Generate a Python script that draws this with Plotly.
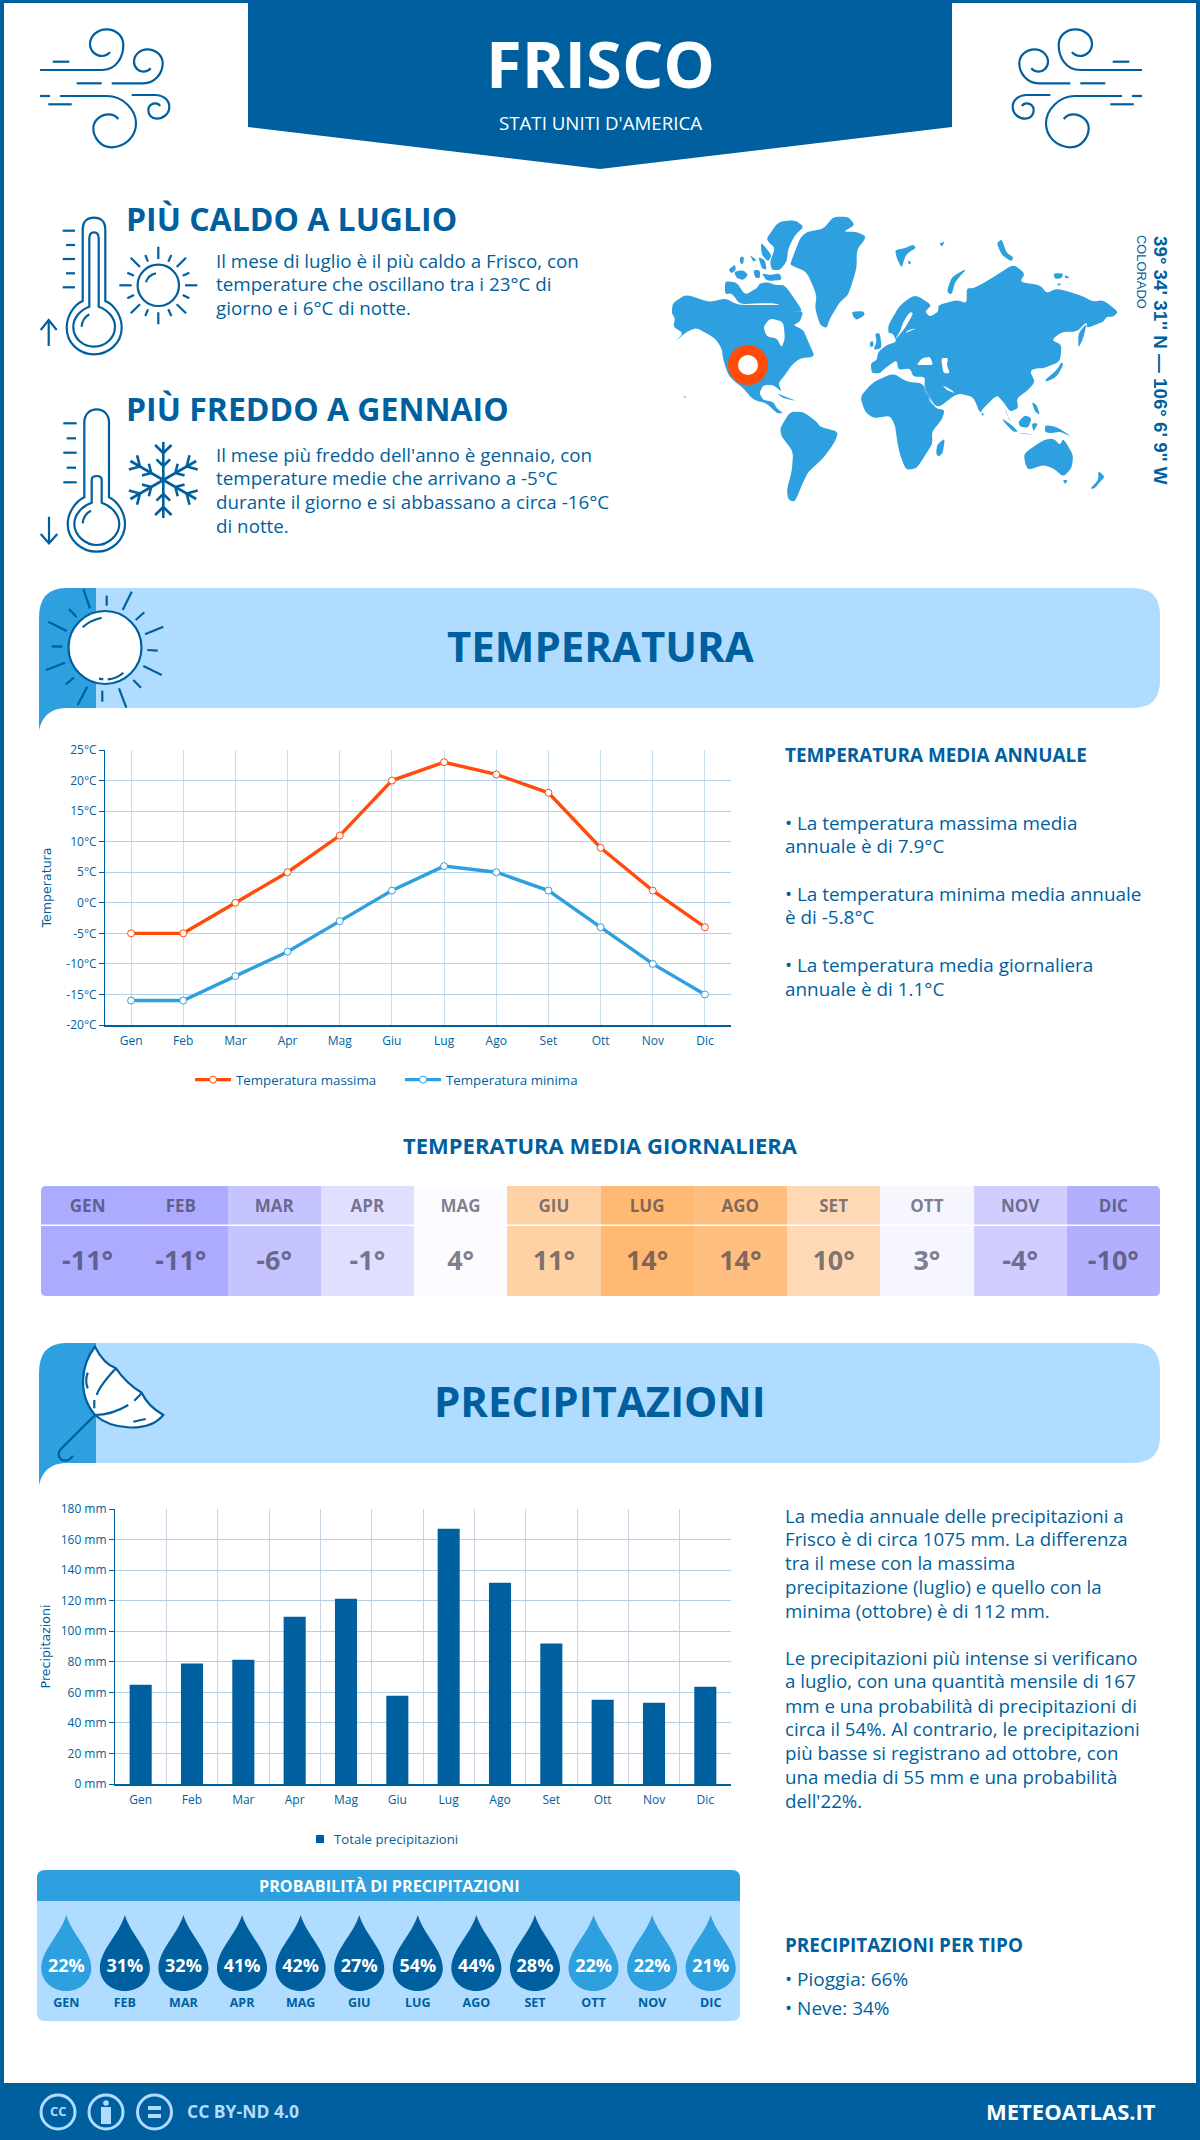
import math
import re

import plotly.graph_objects as go

W, H = 1200, 2140
DARK = "#005F9E"
MID = "#2E9FDF"
LIGHT = "#B0DCFF"
ORANGE = "#FF4C0A"
GRID = "#B3CFE3"
FONT = "Open Sans"

months = ["Gen", "Feb", "Mar", "Apr", "Mag", "Giu", "Lug", "Ago", "Set", "Ott", "Nov", "Dic"]
months_upper = ["GEN", "FEB", "MAR", "APR", "MAG", "GIU", "LUG", "AGO", "SET", "OTT", "NOV", "DIC"]
temp_max = [-5, -5, 0, 5, 11, 20, 23, 21, 18, 9, 2, -4]
temp_min = [-16, -16, -12, -8, -3, 2, 6, 5, 2, -4, -10, -15]
temp_ticks = [-20, -15, -10, -5, 0, 5, 10, 15, 20, 25]
daily_temp = [-10.9, -10.8, -6, -1, 4, 11, 14.4, 13.8, 10, 3, -4, -10]
precip = [65, 78.8, 81.4, 109.5, 121.3, 57.8, 167, 131.8, 91.9, 55.2, 53.2, 63.7]
precip_ticks = [0, 20, 40, 60, 80, 100, 120, 140, 160, 180]
rain_prob = [22, 31, 32, 41, 42, 27, 54, 44, 28, 22, 22, 21]

# temperature -> cell colour
heat_stops = [(-11, "#AAAAFF"), (-10, "#B2AFFF"), (-6, "#C6C4FF"), (-4, "#D0CEFF"), (-1, "#E0DFFF"),
              (3, "#F6F6FF"), (4, "#FCFBFF"), (10, "#FFD9B5"), (11, "#FFD2A6"), (13.8, "#FFBF80"), (14.4, "#FFB972")]

hot_text = ["Il mese di luglio è il più caldo a Frisco, con",
            "temperature che oscillano tra i 23°C di",
            "giorno e i 6°C di notte."]
cold_text = ["Il mese più freddo dell'anno è gennaio, con",
             "temperature medie che arrivano a -5°C",
             "durante il giorno e si abbassano a circa -16°C",
             "di notte."]
annual_text = [(825, "• La temperatura massima media"), (848, "annuale è di 7.9°C"),
               (896, "• La temperatura minima media annuale"), (919, "è di -5.8°C"),
               (967, "• La temperatura media giornaliera"), (991, "annuale è di 1.1°C")]
precip_text = [(1517, "La media annuale delle precipitazioni a"),
               (1540, "Frisco è di circa 1075 mm. La differenza"),
               (1564, "tra il mese con la massima"),
               (1588, "precipitazione (luglio) e quello con la"),
               (1612, "minima (ottobre) è di 112 mm."),
               (1659, "Le precipitazioni più intense si verificano"),
               (1682, "a luglio, con una quantità mensile di 167"),
               (1707, "mm e una probabilità di precipitazioni di"),
               (1730, "circa il 54%. Al contrario, le precipitazioni"),
               (1754, "più basse si registrano ad ottobre, con"),
               (1778, "una media di 55 mm e una probabilità"),
               (1802, "dell'22%.")]

land_west = [
    [(38,295),(78,268),(150,292),(195,280),(235,300),(300,300),(345,300),(375,300),(405,320),(430,320),(420,350),(400,360),(430,375),(445,410),(465,455),(420,460),(395,480),(375,510),(355,535),(365,560),(340,540),(310,540),(298,565),(310,585),(340,590),(350,610),(370,625),(350,625),(320,595),(280,585),(250,550),(225,530),(205,510),(190,465),(185,430),(165,400),(110,368),(80,380),(45,410),(70,385),(40,365),(45,340),(35,325)],
    [(205,195),(225,178),(228,195),(215,205)],
    [(222,200),(250,195),(265,210),(250,225),(230,220)],
    [(195,228),(230,232),(255,270),(290,250),(300,235),(325,232),(345,240),(375,240),(430,320),(400,320),(350,295),(300,295),(240,298),(215,265),(195,268)],
    [(320,100),(355,50),(405,45),(432,65),(405,90),(385,130),(380,170),(360,195),(335,195),(330,170),(345,130),(325,110)],
    [(302,110),(335,150),(325,170),(305,150)],
    [(280,195),(300,195),(300,220),(285,218)],
    [(305,205),(330,210),(360,205),(365,225),(320,228)],
    [(270,150),(290,165),(280,170)],
    [(240,155),(252,155),(250,178),(240,175)],
    [(295,155),(315,165),(320,195),(305,190)],
    [(395,165),(420,100),(440,80),(490,72),(520,35),(565,35),(585,60),(550,80),(590,80),(620,95),(590,135),(590,190),(565,270),(540,290),(510,340),(500,370),(480,360),(465,310),(470,270),(440,200),(390,180)],
    [(575,320),(610,318),(615,330),(590,345),(580,335)],
    [(360,670),(390,620),(430,620),(470,650),(480,665),(535,680),(525,710),(490,760),(445,800),(430,830),(405,890),(385,885),(380,855),(395,800),(400,740),(365,695)],
    [(350,565),(385,578),(410,588),(370,580)],
    [(68,570),(82,580),(72,576)],
    [(645,385),(660,385),(665,430),(640,435),(650,410)],
    [(630,410),(640,408),(640,425),(630,425)],
]
land_east = [
    [(-60,575),(-20,530),(40,505),(80,530),(130,535),(165,610),(195,615),(185,645),(155,680),(158,715),(130,760),(110,790),(78,795),(60,750),(52,710),(45,660),(30,632),(-20,640),(-45,620)],
    [(25,360),(60,300),(105,268),(155,300),(135,320),(150,335),(175,320),(175,300),(230,285),(260,295),(260,250),(280,250),(310,235),(350,210),(400,178),(435,205),(420,232),(480,240),(500,265),(530,250),(600,270),(640,290),(670,285),(715,320),(700,335),(680,335),(670,350),(620,370),(620,350),(590,380),(545,380),(515,405),(545,420),(540,470),(490,490),(470,490),(450,500),(465,530),(445,555),(410,580),(415,610),(390,620),(370,590),(350,570),(310,610),(300,625),(280,575),(232,565),(170,612),(133,545),(135,515),(100,515),(90,490),(55,495),(50,465),(15,490),(0,505),(-25,505),(-28,475),(-10,465),(-5,440),(20,420),(50,410),(38,385),(25,385)],
    [(595,385),(620,355),(610,400),(595,430)],
    [(495,525),(530,495),(545,470),(550,480),(530,515),(500,530)],
    [(375,605),(385,640),(395,650),(380,630)],
    [(365,640),(395,660),(415,680),(400,680),(375,655)],
    [(405,682),(470,690),(440,688)],
    [(415,650),(435,630),(455,640),(445,668),(420,665)],
    [(455,590),(470,600),(480,630),(465,620)],
    [(455,655),(475,655),(460,680)],
    [(495,660),(530,665),(575,695),(540,680),(510,685),(495,680)],
    [(432,745),(490,705),(520,700),(540,720),(550,700),(580,750),(575,790),(550,815),(520,790),(490,780),(445,795),(435,775)],
    [(548,825),(563,825),(556,838)],
    [(655,797),(675,815),(660,830),(645,850),(630,852),(655,825)],
    [(172,718),(195,700),(188,745),(175,755),(168,745)],
    [(45,135),(75,130),(100,118),(108,130),(88,140),(75,155),(65,190),(50,160)],
    [(85,165),(95,175),(85,178)],
    [(178,115),(195,110),(185,125)],
    [(350,115),(365,102),(380,145),(400,155),(395,170),(365,150)],
    [(200,260),(215,215),(262,190),(225,230),(215,270)],
    [(520,205),(550,205),(545,220),(525,222)],
    [(555,210),(570,218),(555,220)],
    [(530,235),(545,237),(535,242)],
    [(305,620),(313,630),(305,632)],
]
seas_west = [[(310,365),(330,340),(370,350),(375,400),(365,428),(350,400),(320,395)]]
seas_east = [
    [(45,405),(75,370),(100,325),(90,320),(70,350),(60,380),(50,395)],
    [(75,385),(110,370),(85,375)],
    [(110,480),(125,460),(150,455),(160,480),(130,480)],
    [(183,460),(205,458),(200,480),(210,505),(190,505)],
    [(187,540),(215,555),(225,565),(200,555)],
    [(450,495),(480,490),(475,515),(465,500)],
    [(130,540),(150,590),(165,605),(140,570)],
]

WIND = ["M30,150 L215,150 C260,150 280,110 280,75 C280,45 255,28 230,28 C200,28 180,50 180,72 C180,95 200,108 215,108 C228,108 238,100 240,96",
        "M68,125 L118,125", "M140,190 L215,190",
        "M245,190 L340,190 C375,190 398,160 398,130 C398,105 375,88 352,88 C330,88 312,105 312,125 C312,145 328,155 340,155 C350,155 358,150 362,145",
        "M30,228 L60,228",
        "M90,228 L230,228 C280,228 318,270 318,310 C318,350 285,382 245,382 C210,382 190,350 190,325 C190,300 215,283 235,283 C250,283 260,290 265,297",
        "M55,253 L125,253",
        "M305,225 L375,225 C400,225 418,240 418,260 C418,282 400,296 380,296 C365,296 355,285 355,270 C355,258 365,250 375,250 C382,250 388,253 390,258"]
THERMO_HOT = ["M158,288 L158,72 C158,50 172,38 192,38 C212,38 226,50 226,72 L226,288 C255,300 275,335 275,368 C275,415 235,448 192,448 C148,448 110,415 110,368 C110,335 130,300 158,288 Z",
              "M178,305 L178,100 C178,88 184,82 192,82 C200,82 206,88 206,100 L206,305 C235,315 255,340 255,365 C255,400 225,425 192,425 C158,425 130,400 130,365 C130,340 150,315 178,305 Z",
              "M155,365 C155,350 165,335 178,328",
              "M98,77 L135,77", "M108,120 L135,120", "M98,162 L135,162", "M108,205 L135,205", "M98,247 L135,247",
              "M56,423 L56,345", "M32,375 L56,345 L80,375",
              "M348,232 C352,218 365,208 378,205",
              "M385,125 L385,162", "M385,322 L385,358", "M268,241 L305,241", "M465,241 L502,241",
              "M302,158 L330,186", "M468,158 L440,186", "M302,325 L330,298", "M468,325 L440,298",
              "M346,150 L354,170", "M424,150 L415,170", "M292,203 L312,212", "M478,203 L458,212",
              "M292,280 L312,270", "M478,280 L458,270", "M346,333 L354,313", "M424,333 L415,313"]
THERMO_COLD = ["M163,292 L163,68 C163,42 180,28 200,28 C220,28 237,42 237,68 L237,292 C265,305 285,340 285,372 C285,420 245,455 200,455 C155,455 113,420 113,372 C113,340 135,305 163,292 Z",
               "M185,308 L185,240 C185,232 192,228 200,228 C208,228 215,232 215,240 L215,308 C245,318 268,345 268,372 C268,405 235,435 200,435 C165,435 133,405 133,372 C133,345 155,318 185,308 Z",
               "M158,370 C160,352 170,338 183,332",
               "M100,70 L140,70", "M110,115 L138,115", "M100,158 L140,158", "M110,203 L138,203", "M100,247 L140,247",
               "M57,350 L57,430", "M32,402 L57,430 L82,402"]
SUN_RAYS = ["M145,12 L165,70", "M215,32 L215,62", "M290,20 L263,75", "M328,82 L302,105", "M385,125 L330,148",
            "M337,195 L368,197", "M325,243 L380,270", "M295,285 L318,308", "M252,310 L274,368", "M202,317 L202,350",
            "M157,305 L128,360", "M117,278 L92,298", "M90,233 L33,255", "M82,185 L50,184", "M95,138 L40,110",
            "M125,97 L102,72", "M143,127 C160,110 180,103 200,98", "M218,283 C235,282 252,275 265,263", "M192,281 L205,283"]
UMBRELLA = "M180,20 C140,70 125,160 180,225 C230,270 340,280 385,225 C350,205 330,180 320,158 C290,140 260,110 243,85 C215,75 195,50 180,20 Z"
UMBRELLA_LINES = ["M243,85 C210,120 190,150 185,165", "M178,180 L178,205", "M180,225 C220,225 255,210 280,195",
                  "M298,182 L320,160", "M295,245 L332,237", "M158,98 C152,115 152,130 158,145",
                  "M180,225 L75,330 C65,345 75,362 90,362 C100,362 110,355 113,347"]

shapes = []
annotations = []


def crop_path(d, ox, oy, mirror=None):
    # 3x crop coordinates -> page pixels
    def conv(m):
        x = ox + float(m.group(1)) / 3
        y = oy + float(m.group(2)) / 3
        if mirror is not None:
            x = mirror - x
        return f"{x:.1f},{y:.1f}"
    return re.sub(r"(-?[\d.]+),(-?[\d.]+)", conv, d)


def poly(pts, ox, oy):
    # closed outline with the corners rounded off
    pts = [(ox + x / 3, oy + y / 3) for x, y in pts]
    out = []
    for i, (x, y) in enumerate(pts):
        px, py = pts[i - 1]
        nx, ny = pts[(i + 1) % len(pts)]
        a = (x + 0.3 * (px - x), y + 0.3 * (py - y))
        b = (x + 0.3 * (nx - x), y + 0.3 * (ny - y))
        out.append(f"{'M' if i == 0 else 'L'}{a[0]:.1f},{a[1]:.1f} Q{x:.1f},{y:.1f} {b[0]:.1f},{b[1]:.1f}")
    return " ".join(out) + " Z"


def rect(x0, y0, x1, y1, color, layer="below"):
    shapes.append(dict(type="rect", xref="x", yref="y", x0=x0, y0=y0, x1=x1, y1=y1,
                       fillcolor=color, line=dict(width=0), layer=layer))


def fill(d, color, layer="below"):
    shapes.append(dict(type="path", xref="x", yref="y", path=d, fillcolor=color, line=dict(width=0), layer=layer))


def stroke(d, color=DARK, width=2.2, fillcolor="rgba(0,0,0,0)", layer="below"):
    shapes.append(dict(type="path", xref="x", yref="y", path=d, fillcolor=fillcolor,
                       line=dict(color=color, width=width), layer=layer))


def circle(cx, cy, r, color=DARK, width=2.2, fillcolor="rgba(0,0,0,0)"):
    shapes.append(dict(type="circle", xref="x", yref="y", x0=cx - r, x1=cx + r, y0=cy - r, y1=cy + r,
                       fillcolor=fillcolor, line=dict(color=color, width=width), layer="below"))


def note(x, y, text, size, color=DARK, anchor="left", bold=False, angle=0, family=FONT):
    # rendered text sits a little low of its middle, nudge it back up
    lift = 0 if angle else 1.5 + size * 0.02
    annotations.append(dict(xref="x", yref="y", x=x, y=y - lift, text=f"<b>{text}</b>" if bold else text,
                            showarrow=False, xanchor=anchor, yanchor="middle", textangle=angle,
                            font=dict(family=family, size=size, color=color)))


def banner(top, title):
    # y of the section banner: light bar, darker left flap with the curled tail
    fill(f"M70,{top} L1133,{top} Q1160,{top} 1160,{top + 27} L1160,{top + 93} Q1160,{top + 120} 1133,{top + 120} L70,{top + 120} Z", LIGHT)
    fill(f"M96,{top} L66,{top} Q39,{top} 39,{top + 30} L39,{top + 143} C42,{top + 127} 52,{top + 120} 68,{top + 120} L96,{top + 120} Z", MID)
    note(600, top + 60, title, 42, bold=True, anchor="center")


# page frame, header and footer
rect(0, 0, W, 3, DARK)
rect(0, 0, 4, H, DARK)
rect(W - 4, 0, W, H, DARK)
rect(0, 2083, W, H, DARK)
fill("M248,0 L952,0 L952,127 L600,169 L248,127 Z", DARK)
note(600, 66, "FRISCO", 65, "white", "center", True)
note(600, 124, "STATI UNITI D'AMERICA", 18.7, "white", "center")
for d in WIND:
    stroke(crop_path(d, 30, 20))
    stroke(crop_path(d, 30, 20, mirror=1182))

# hottest and coldest month blocks
for d in THERMO_HOT:
    stroke(crop_path(d, 30, 205))
circle(158.3, 285.3, 20.7)
for d in THERMO_COLD:
    stroke(crop_path(d, 30, 400))
for k in range(6):
    a = math.radians(60 * k)
    ca, sa = math.cos(a), math.sin(a)
    cx, cy = 163.3, 480
    stroke(f"M{cx:.1f},{cy:.1f} L{cx + 38 * sa:.1f},{cy - 38 * ca:.1f}", width=2.6)
    for dist, size in ((14, 9.5), (27, 11.5)):
        bx, by = cx + dist * sa, cy - dist * ca
        for turn in (-0.8, 0.8):
            b = a + turn
            stroke(f"M{bx:.1f},{by:.1f} L{bx + size * math.sin(b):.1f},{by - size * math.cos(b):.1f}", width=2.6)
note(124, 221, "PIÙ CALDO A LUGLIO", 32, bold=True)
note(124, 411, "PIÙ FREDDO A GENNAIO", 32, bold=True)
for y, line in zip((263, 286, 310), hot_text):
    note(214, y, line, 18.8)
for y, line in zip((457, 480, 504, 528), cold_text):
    note(214, y, line, 18.8)

# world map
for pts in land_west:
    fill(poly(pts, 660, 205), MID)
for pts in land_east:
    fill(poly(pts, 880, 205), MID)
for pts in seas_west:
    fill(poly(pts, 660, 205), "white")
for pts in seas_east:
    fill(poly(pts, 880, 205), "white")
circle(748, 365, 15, ORANGE, 10, "white")
note(1161, 360, "39° 34' 31'' N — 106° 6' 9'' W", 18.8, anchor="center", bold=True, angle=90, family="Liberation Sans")
note(1142, 272, "COLORADO", 12.9, anchor="center", angle=90, family="Liberation Sans")

# temperature section
banner(588, "TEMPERATURA")
circle(105, 647.5, 36.5, DARK, 2.2, "white")
for d in SUN_RAYS:
    stroke(crop_path(d, 35, 585))
note(783, 757, "TEMPERATURA MEDIA ANNUALE", 18.9, bold=True)
for y, line in annual_text:
    note(783, y, line, 18.9)
note(600, 1147, "TEMPERATURA MEDIA GIORNALIERA", 22, anchor="center", bold=True)

# precipitation section
banner(1343, "PRECIPITAZIONI")
stroke(crop_path(UMBRELLA, 35, 1340), DARK, 2.2, "white")
for d in UMBRELLA_LINES:
    stroke(crop_path(d, 35, 1340))
for y, line in precip_text:
    note(783, y, line, 18.7)
rect(316, 1835, 324, 1843, DARK)
note(332, 1840.5, "Totale precipitazioni", 13.2)

# probability panel
fill("M45,1870 L732,1870 Q740,1870 740,1878 L740,1901 L37,1901 L37,1878 Q37,1870 45,1870 Z", MID)
fill("M37,1901 L740,1901 L740,2013 Q740,2021 732,2021 L45,2021 Q37,2021 37,2013 Z", LIGHT)
note(389, 1888, "PROBABILITÀ DI PRECIPITAZIONI", 16.2, "white", "center", True)
note(783, 1947, "PRECIPITAZIONI PER TIPO", 18.9, bold=True)
note(783, 1981, "• Pioggia: 66%", 19)
note(783, 2010, "• Neve: 34%", 19)

# footer badges
for cx in (58, 106, 154.5):
    circle(cx, 2112, 17, LIGHT, 3)
note(58, 2113, "CC", 13, LIGHT, "center", True)
circle(106, 2103, 2.8, LIGHT, 0, LIGHT)
rect(101, 2107, 111, 2124, LIGHT)
rect(148, 2106, 161, 2110, LIGHT)
rect(148, 2114, 161, 2118, LIGHT)
note(185, 2113, "CC BY-ND 4.0", 17.5, LIGHT, bold=True)
note(1158, 2113, "METEOATLAS.IT", 22, "white", "right", True)

fig = go.Figure()


def dom_x(a, b):
    return [a / W, b / W]


def dom_y(top, bottom):
    return [1 - bottom / H, 1 - top / H]


# line chart
fig.add_trace(go.Scatter(x=months, y=temp_max, name="Temperatura massima", mode="lines+markers", xaxis="x2", yaxis="y2",
                         line=dict(color=ORANGE, width=3.4),
                         marker=dict(size=7, color="white", line=dict(color=ORANGE, width=1)), legend="legend"))
fig.add_trace(go.Scatter(x=months, y=temp_min, name="Temperatura minima", mode="lines+markers", xaxis="x2", yaxis="y2",
                         line=dict(color=MID, width=3.4),
                         marker=dict(size=7, color="white", line=dict(color=MID, width=1)), legend="legend2"))

# bar chart
fig.add_trace(go.Bar(x=months, y=precip, name="Totale precipitazioni", marker=dict(color=DARK, line=dict(width=0)),
                     xaxis="x3", yaxis="y3", showlegend=False))

# daily mean table
zmin, zmax = heat_stops[0][0], heat_stops[-1][0]
fig.add_trace(go.Heatmap(x=months_upper, y=[0.5], z=[daily_temp], zmin=zmin, zmax=zmax, showscale=False, hoverinfo="skip",
                         colorscale=[[(t - zmin) / (zmax - zmin), c] for t, c in heat_stops],
                         xaxis="x4", yaxis="y4"))
cell_ink = "rgba(45,45,65,0.62)"
fig.add_trace(go.Scatter(x=months_upper, y=[0.8] * 12, text=months_upper, mode="text", showlegend=False, xaxis="x4", yaxis="y4",
                         texttemplate="<b>%{text}</b>", textfont=dict(family=FONT, size=17, color=cell_ink)))
fig.add_trace(go.Scatter(x=months_upper, y=[0.3] * 12, text=[f"{round(v)}°" for v in daily_temp], mode="text", showlegend=False,
                         xaxis="x4", yaxis="y4", texttemplate="<b>%{text}</b>", textfont=dict(family=FONT, size=27, color=cell_ink)))
rect(41, 1224.5, 1160, 1226, "white", "above")
for cx, cy, sx, sy in ((41, 1186, 1, 1), (1160, 1186, -1, 1), (41, 1296, 1, -1), (1160, 1296, -1, -1)):
    fill(f"M{cx},{cy} L{cx + 5 * sx},{cy} Q{cx},{cy} {cx},{cy + 5 * sy} Z", "white", "above")

# rain drops: outline in x-axis units (month index) and page pixels
PITCH = 58.5
for i, p in enumerate(rain_prob):
    xs = lambda dx: i + dx / PITCH
    d = (f"M{xs(0):.4f},1915 C{xs(-6):.4f},1935 {xs(-25):.4f},1950 {xs(-25):.4f},1968 "
         f"C{xs(-25):.4f},1981 {xs(-14):.4f},1991 {xs(0):.4f},1991 C{xs(14):.4f},1991 {xs(25):.4f},1981 {xs(25):.4f},1968 "
         f"C{xs(25):.4f},1950 {xs(6):.4f},1935 {xs(0):.4f},1915 Z")
    shapes.append(dict(type="path", xref="x5", yref="y5", path=d, fillcolor=DARK if p >= 25 else MID,
                       line=dict(width=0), layer="below"))
month_idx = list(range(12))
fig.add_trace(go.Scatter(x=month_idx, y=[1967] * 12, text=[f"{p}%" for p in rain_prob], mode="text", showlegend=False,
                         xaxis="x5", yaxis="y5", texttemplate="<b>%{text}</b>", textfont=dict(family=FONT, size=18, color="white")))
fig.add_trace(go.Scatter(x=month_idx, y=[2004] * 12, text=months_upper, mode="text", showlegend=False,
                         xaxis="x5", yaxis="y5", texttemplate="<b>%{text}</b>", textfont=dict(family=FONT, size=12.5, color=DARK)))

tick_font = dict(family=FONT, size=12, color=DARK)
hidden = dict(visible=False, fixedrange=True, showgrid=False, zeroline=False)
legend_base = dict(orientation="h", xanchor="left", yanchor="middle", bgcolor="rgba(0,0,0,0)",
                   font=dict(family=FONT, size=13.3, color=DARK), itemwidth=36)

fig.update_layout(
    width=W, height=H, margin=dict(l=0, r=0, t=0, b=0, pad=0, autoexpand=False),
    paper_bgcolor="white", plot_bgcolor="rgba(0,0,0,0)", hovermode=False,
    font=dict(family=FONT, color=DARK), bargap=0.57, showlegend=True,
    shapes=shapes, annotations=annotations,
    xaxis=dict(range=[0, W], domain=[0, 1], anchor="y", **hidden),
    yaxis=dict(range=[H, 0], domain=[0, 1], anchor="x", **hidden),
    xaxis2=dict(domain=dom_x(105, 731), anchor="y2", type="category", categoryorder="array", categoryarray=months,
                range=[-0.5, 11.5], showgrid=True, gridcolor="#CADDEA", gridwidth=1, showline=True, linecolor=DARK, linewidth=1.5,
                ticks="", tickfont=tick_font, zeroline=False, ticklabelstandoff=4),
    yaxis2=dict(domain=dom_y(750, 1025), anchor="x2", range=[-20, 25], tickvals=temp_ticks, ticktext=[f"{t}°C" for t in temp_ticks],
                showgrid=True, gridcolor=GRID, gridwidth=1, zeroline=False, showline=True, linecolor=DARK, linewidth=1,
                ticks="outside", ticklen=5, tickcolor=DARK, tickfont=tick_font,
                title=dict(text="Temperatura", standoff=11, font=dict(family="DejaVu Sans", size=12.6, color=DARK))),
    xaxis3=dict(domain=dom_x(115, 731), anchor="y3", type="category", categoryorder="array", categoryarray=months,
                range=[-0.5, 11.5], tickson="boundaries", showgrid=True, gridcolor="#C6D6E4", gridwidth=1, showline=True, linecolor=DARK,
                linewidth=1.5, ticks="", tickfont=tick_font, zeroline=False, ticklabelstandoff=4),
    yaxis3=dict(domain=dom_y(1509, 1784), anchor="x3", range=[0, 180], tickvals=precip_ticks, ticktext=[f"{t} mm" for t in precip_ticks],
                showgrid=True, gridcolor=GRID, gridwidth=1, zeroline=False, showline=True, linecolor=DARK, linewidth=1,
                ticks="outside", ticklen=5, tickcolor=DARK, tickfont=tick_font,
                title=dict(text="Precipitazioni", standoff=7, font=dict(family="DejaVu Sans", size=12.6, color=DARK))),
    xaxis4=dict(domain=dom_x(41, 1160), anchor="y4", type="category", range=[-0.5, 11.5], **hidden),
    yaxis4=dict(domain=dom_y(1186, 1296), anchor="x4", range=[0, 1], **hidden),
    xaxis5=dict(domain=dom_x(37, 740), anchor="y5", range=[-0.5, 11.5], **hidden),
    yaxis5=dict(domain=dom_y(1901, 2021), anchor="x5", range=[2021, 1901], **hidden),
    legend=dict(x=190 / W, y=1 - 1080 / H, **legend_base),
    legend2=dict(x=400 / W, y=1 - 1080 / H, **legend_base),
)

fig.write_html("out.html", config={"displayModeBar": False}, post_script="document.body.style.margin='0';")
